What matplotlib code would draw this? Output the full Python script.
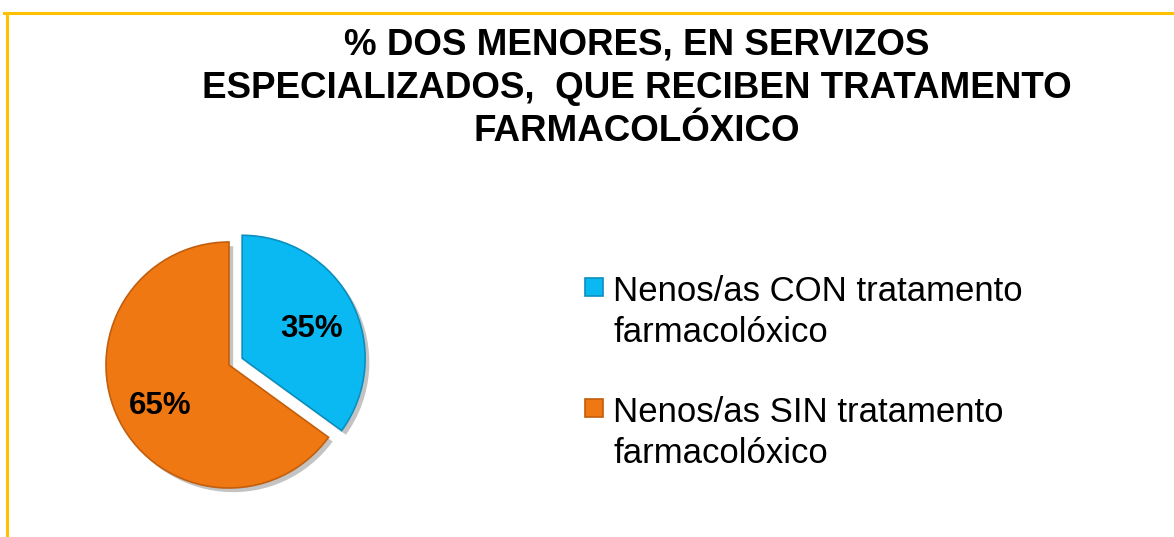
import matplotlib
matplotlib.use('Agg')
import matplotlib.pyplot as plt
import matplotlib.patches as mpatches
import matplotlib.patheffects as pe

plt.rcParams['font.family'] = ['Liberation Sans', 'DejaVu Sans']

# datos
categorias = ['Nenos/as CON tratamento\nfarmacolóxico',
              'Nenos/as SIN tratamento\nfarmacolóxico']
porcentaxes = [35, 65]
cores = ['#0BB9F2', '#F07812']
bordes = ['#0A8FBF', '#C25E0C']
titulo = '% DOS MENORES, EN SERVIZOS\nESPECIALIZADOS,  QUE RECIBEN TRATAMENTO\nFARMACOLÓXICO'

W, H = 1174, 537
fig = plt.figure(figsize=(W / 100, H / 100), dpi=100)

# marco dourado (arriba e esquerda)
fig.add_artist(plt.Line2D([4 / W, 1], [1 - 12.5 / H, 1 - 12.5 / H], color='#FFC000', lw=2.2))
fig.add_artist(plt.Line2D([6.5 / W, 6.5 / W], [0, 1 - 12.5 / H], color='#FFC000', lw=2.2))

# titulo, unha liña de cada vez
for j, linea in enumerate(titulo.split('\n')):
    fig.text(637 / W, 1 - (54 + j * 43.5) / H, linea, ha='center', va='baseline',
             fontsize=26.5, fontweight='bold')

# tarta: 123 px por unidade, centro en (229, 365) px
R = 123
cx, cy = 229, H - 365
ax_w, ax_h = 560, 357
ax = fig.add_axes([0, 0, ax_w / W, ax_h / H])
wedges, textos, pcts = ax.pie(porcentaxes, colors=cores, startangle=90, counterclock=False,
                              explode=[0.12, 0], autopct='%1.0f%%', pctdistance=0.63,
                              wedgeprops=dict(linewidth=1.2),
                              textprops=dict(fontsize=22.5, fontweight='bold', color='black'))
for w, b in zip(wedges, bordes):
    w.set_edgecolor(b)
    w.set_path_effects([pe.SimplePatchShadow(offset=(3, -3), shadow_rgbFace='#555555', alpha=0.35),
                        pe.Normal()])
for t in pcts:
    px, py = t.get_position()
    t.set_position((px, py - 0.045))
ax.set_xlim(-cx / R, (ax_w - cx) / R)
ax.set_ylim(-cy / R, (ax_h - cy) / R)
ax.axis('off')

# lenda
y0 = 301
for i, (cat, cor, b) in enumerate(zip(categorias, cores, bordes)):
    yb = y0 + i * 121
    fig.add_artist(mpatches.Rectangle((585 / W, 1 - (yb - 5) / H), 18 / W, 18 / H,
                                      facecolor=cor, edgecolor=b, lw=1.2,
                                      transform=fig.transFigure))
    for j, linea in enumerate(cat.split('\n')):
        fig.text(613 / W, 1 - (yb + j * 41) / H, linea, ha='left', va='baseline',
                 fontsize=25)

fig.savefig('out.png', dpi=100, facecolor='white')
